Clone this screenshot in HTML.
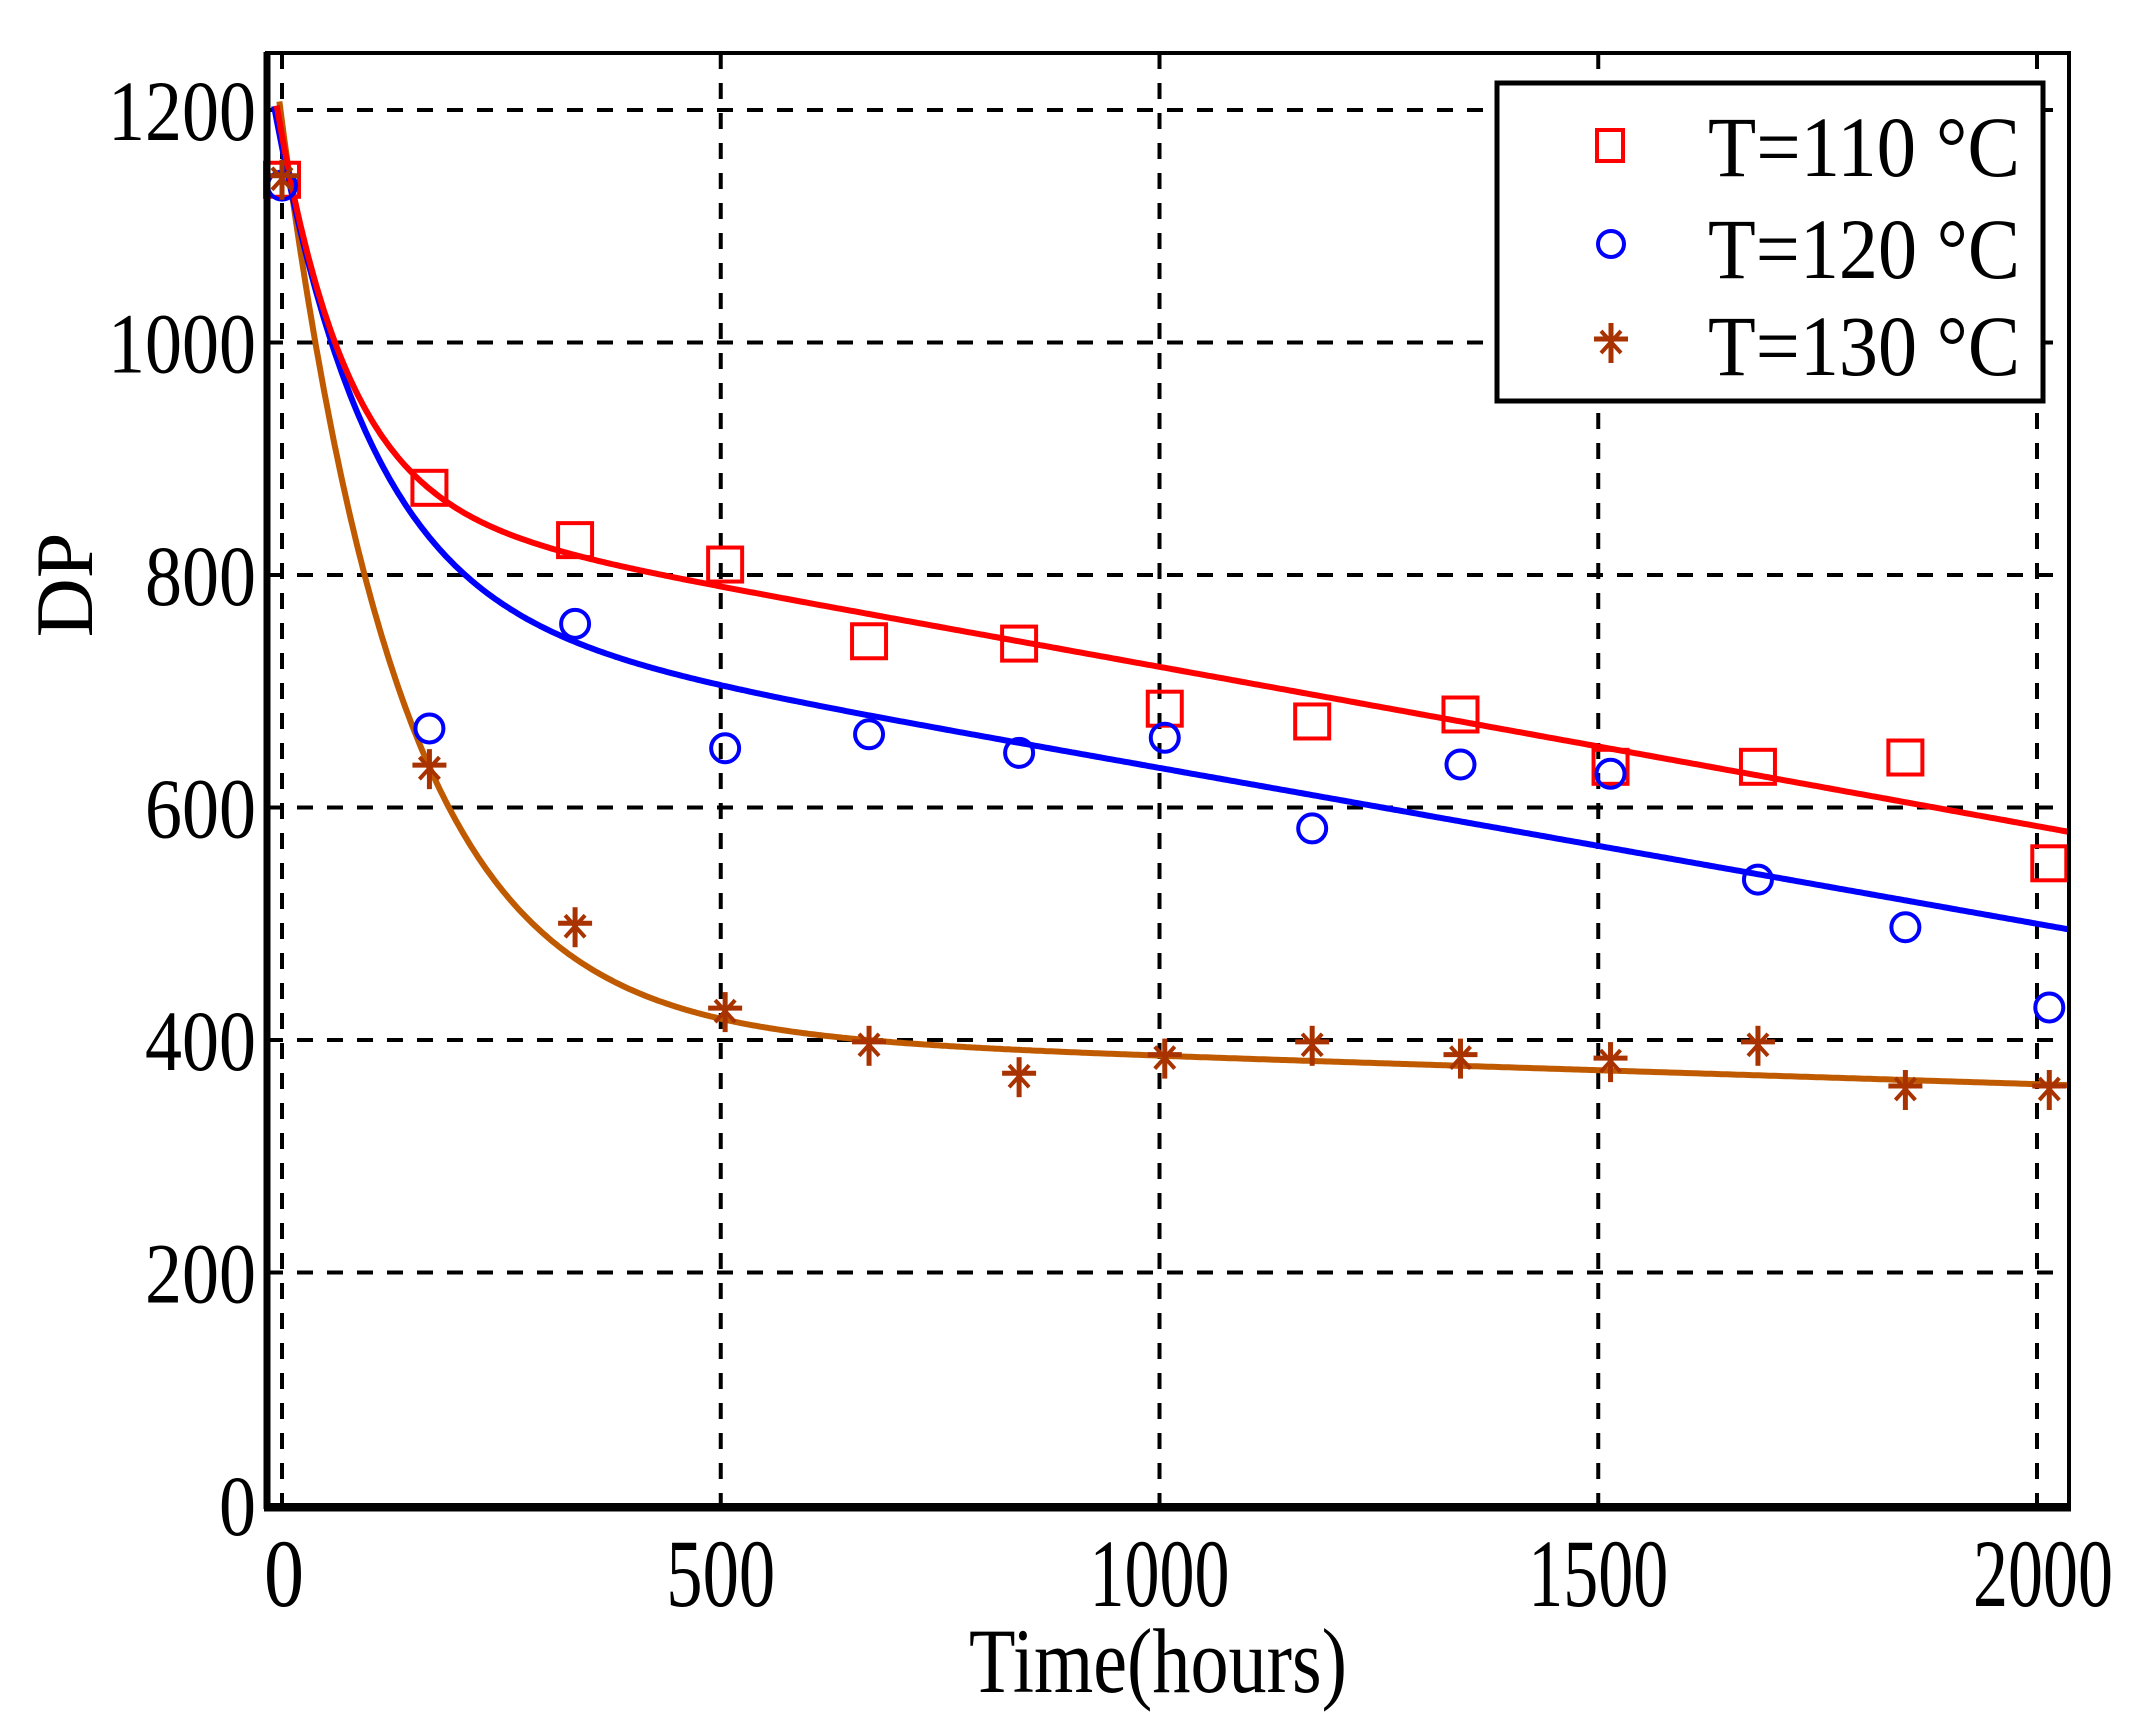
<!DOCTYPE html>
<html><head><meta charset="utf-8"><style>html,body{margin:0;padding:0;background:#fff}svg{display:block}</style></head>
<body>
<svg id="s" width="2134" height="1730" viewBox="0 0 2134 1730" xmlns="http://www.w3.org/2000/svg" font-family="Liberation Serif, serif">
<rect width="2134" height="1730" fill="#fff"/>
<g id="grid" stroke="#000" stroke-width="4" stroke-dasharray="16,14"></g>
<g id="curves" fill="none" stroke-width="6" stroke-linejoin="round"></g>
<g id="marks"></g>
<rect x="267" y="53" width="1802" height="1452" fill="none" stroke="#000" stroke-width="4"/>
<line x1="267" y1="52" x2="267" y2="1509" stroke="#000" stroke-width="7"/>
<line x1="264" y1="1508" x2="2071" y2="1508" stroke="#000" stroke-width="7"/>
<g id="ylab" font-size="86" text-anchor="end" fill="#000"></g>
<g id="xlab" font-size="96" text-anchor="middle" fill="#000"></g>
<text x="0" y="0" font-size="82" text-anchor="middle" transform="translate(92,585) rotate(-90)">DP</text>
<text x="1158" y="1692" font-size="92" text-anchor="middle" textLength="378" lengthAdjust="spacingAndGlyphs">Time(hours)</text>
<g>
<rect x="1497" y="83" width="546" height="318" fill="#fff" stroke="#000" stroke-width="5"/>
<rect x="1597" y="130" width="26" height="31" fill="none" stroke="#f00" stroke-width="4"/>
<circle cx="1611" cy="244" r="13" fill="none" stroke="#00f" stroke-width="4"/>
<g id="legstar"></g>
<g font-size="86" fill="#000">
<text x="1708" y="176" textLength="312" lengthAdjust="spacingAndGlyphs">T=110 °C</text>
<text x="1708" y="278" textLength="312" lengthAdjust="spacingAndGlyphs">T=120 °C</text>
<text x="1708" y="375" textLength="312" lengthAdjust="spacingAndGlyphs">T=130 °C</text>
</g>
</g>
</svg>
<script>
var NS="http://www.w3.org/2000/svg";
function X(t){return 282+t*0.8775;}
function Y(d){return 1505-d*1.1625;}
function el(p,tag,a,txt){var e=document.createElementNS(NS,tag);for(var k in a)e.setAttribute(k,a[k]);if(txt!=null)e.textContent=txt;p.appendChild(e);return e;}
var g=document.getElementById('grid');
[0,500,1000,1500,2000].forEach(function(t){el(g,'line',{x1:X(t),y1:53,x2:X(t),y2:1505});});
[200,400,600,800,1000,1200].forEach(function(d){el(g,'line',{x1:267,y1:Y(d),x2:2069,y2:Y(d)});});
var yl=document.getElementById('ylab');
[0,200,400,600,800,1000,1200].forEach(function(d){var s=String(d);el(yl,'text',{x:256,y:Y(d)+30,textLength:s.length*37,lengthAdjust:'spacingAndGlyphs'},s);});
var xl=document.getElementById('xlab');
[0,500,1000,1500,2000].forEach(function(t){var s=String(t);var w={1:40,3:109,4:140}[s.length];el(xl,'text',{x:X(t)+(t==2000?6:(t==0?2:0)),y:1606,textLength:w,lengthAdjust:'spacingAndGlyphs'},s);});
var f={
r:function(t){return 858-0.137*t+320*Math.exp(-t/80);},
b:function(t){return 768-0.134*t+400*Math.exp(-t/110);},
o:function(t){return 410-0.024*t+780*Math.exp(-t/137);}
};
var cols={r:'#ff0000',b:'#0000ff',o:'#c05a00'};
var cg=document.getElementById('curves');
['o','b','r'].forEach(function(k){var p=[];for(var t=-15;t<=2037;t+=3){var d=f[k](t);if(d>1215)continue;p.push(X(t).toFixed(1)+','+Y(d).toFixed(1));}el(cg,'polyline',{points:p.join(' '),stroke:cols[k]});});
var ts=[0,168,334,505,669,840,1006,1174,1343,1514,1682,1850,2014];
var R=[1140,875,830,809,743,741,685,674,680,635,635,643,552];
var B=[1135,668,758,651,663,647,660,582,637,629,538,497,428];
var O=[1140,633,497,424,395,368,384,395,384,381,395,357,357];
var m=document.getElementById('marks');
function star(p,cx,cy){var c='#a83200';el(p,'line',{x1:cx,y1:cy-20,x2:cx,y2:cy+20,stroke:c,'stroke-width':5});el(p,'line',{x1:cx-17,y1:cy-4,x2:cx+17,y2:cy-4,stroke:c,'stroke-width':5});el(p,'line',{x1:cx-10,y1:cy-12,x2:cx+10,y2:cy+10,stroke:c,'stroke-width':4});el(p,'line',{x1:cx+10,y1:cy-12,x2:cx-10,y2:cy+10,stroke:c,'stroke-width':4});}
ts.forEach(function(t,i){
el(m,'rect',{x:X(t)-17,y:Y(R[i])-17,width:34,height:34,fill:'none',stroke:'#f00','stroke-width':4});
el(m,'circle',{cx:X(t),cy:Y(B[i]),r:14,fill:'none',stroke:'#00f','stroke-width':4});
star(m,X(t),Y(O[i]));
});
star(document.getElementById('legstar'),1611,343);
</script>
</body></html>
